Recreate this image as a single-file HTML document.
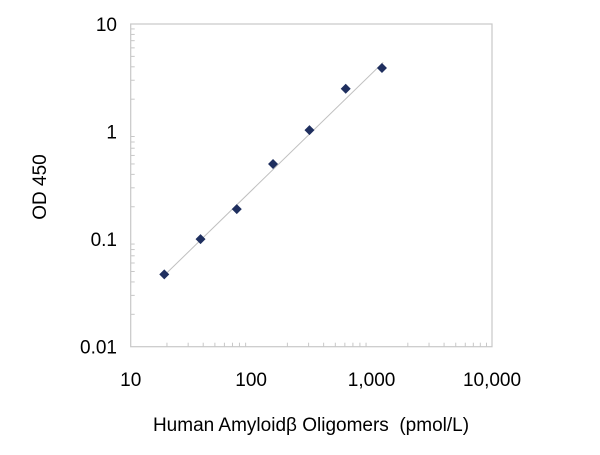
<!DOCTYPE html>
<html><head><meta charset="utf-8"><style>
body{margin:0;background:#fff}
svg text{font-family:"Liberation Sans",Arial,sans-serif;fill:#000}
</style></head><body>
<svg width="600" height="450">
<g id="g"></g>
</svg>
<script>
const xValues=[19,38,76,152,305,610,1220];
const yValues=[0.047,0.1,0.19,0.5,1.03,2.5,3.9];
const xTicks=[10,100,1000,10000];
const xTickLabels=["10","100","1,000","10,000"];
const yTicks=[0.01,0.1,1,10];
const yTickLabels=["0.01","0.1","1","10"];
const trendX=[19,1250];
const trendY=[0.046,4.4];
const L=130.7,R=492,T=24,B=346.7;
const X=v=>L+(Math.log10(v)-1)/3*(R-L);
const Y=v=>B-(Math.log10(v)+2)/3*(B-T);
const g=document.getElementById('g');
const NS='http://www.w3.org/2000/svg';
function mk(t,a){const e=document.createElementNS(NS,t);for(const k in a)e.setAttribute(k,a[k]);g.appendChild(e);return e;}
let e=mk('rect',{x:L,y:T,width:R-L,height:B-T,fill:'none',stroke:'#c8c8c8','stroke-width':1.2});


for(let d=1;d<4;d++)for(let m=2;m<=9;m++){const v=Math.pow(10,d)*m;
 e=mk('line',{x1:X(v),x2:X(v),y1:B,y2:B-4,stroke:'#c8c8c8'});
 
 }
for(let d=-2;d<1;d++)for(let m=2;m<=9;m++){const v=Math.pow(10,d)*m;
 e=mk('line',{x1:L,x2:L+4,y1:Y(v),y2:Y(v),stroke:'#c8c8c8'});
 
 }
xTicks.forEach((v,i)=>{e=mk('text',{x:X(v),y:386,'text-anchor':'middle','font-size':19});e.textContent=xTickLabels[i];
 
 });
yTicks.forEach((v,i)=>{e=mk('text',{x:117,y:Y(v)+7,'text-anchor':'end','font-size':19});e.textContent=yTickLabels[i];
 
 });
e=mk('line',{x1:X(trendX[0]),y1:Y(trendY[0]),x2:X(trendX[1]),y2:Y(trendY[1]),stroke:'#c0c0c0','stroke-width':1});


xValues.forEach((v,i)=>{const cx=X(v),cy=Y(yValues[i]);
 e=mk('path',{d:`M${cx},${cy-5}L${cx+5},${cy}L${cx},${cy+5}L${cx-5},${cy}Z`,fill:'#1f2f5f'});
 
 });
e=mk('text',{x:311,y:431,'text-anchor':'middle','font-size':19,style:'white-space:pre'});e.textContent='Human Amyloidβ Oligomers  (pmol/L)';


e=mk('text',{x:0,y:0,'text-anchor':'middle','font-size':19,transform:'translate(46,187) rotate(-90)'});e.textContent='OD 450';


</script>
</body></html>
